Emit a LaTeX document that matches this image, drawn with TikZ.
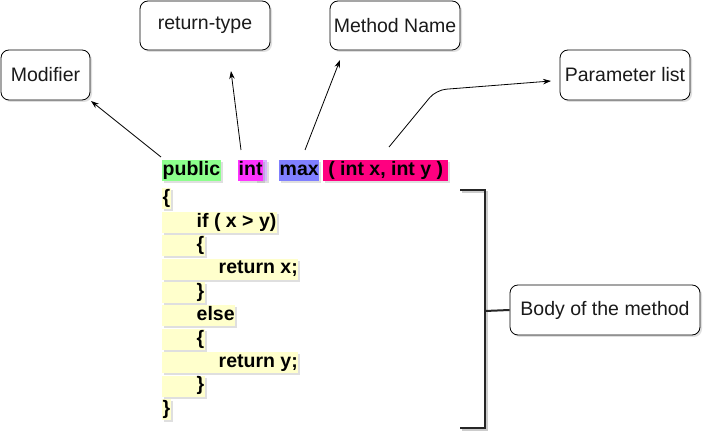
\documentclass[tikz,border=0pt]{standalone}
\usepackage{fontspec}
\setmainfont{Liberation Sans}
\usetikzlibrary{shadows,arrows.meta}
\definecolor{cgreen}{HTML}{8CFF8C}
\definecolor{cmag}{HTML}{FF33FF}
\definecolor{clav}{HTML}{D9B3FF}
\definecolor{cblue}{HTML}{7F7FFF}
\definecolor{cred}{HTML}{FF0080}
\definecolor{cyel}{HTML}{FFFFCC}
\definecolor{ctext}{HTML}{1A1A1A}
\begin{document}
\begin{tikzpicture}[x=1pt,y=-1pt,
  lbl/.style={draw=black, line width=0.8pt, rounded corners=8pt, fill=white,
    font=\fontsize{19.5}{23}\selectfont, text=ctext, inner sep=0pt,
    drop shadow={shadow xshift=2pt, shadow yshift=-2pt, opacity=0.25}},
  codebox/.style={inner xsep=0.5pt, inner ysep=0pt, minimum height=21pt, anchor=west,
    text height=14pt, text depth=4.5pt,
    font=\fontsize{19.5}{23}\bfseries\selectfont, text=black,
    drop shadow={shadow xshift=2pt, shadow yshift=-2pt, opacity=0.25}},
  codeline/.style={codebox, fill=cyel},
  arr/.style={line width=0.8pt, black, -{Stealth[length=8pt,width=5.5pt]}},
  brack/.style={line width=2pt, black!85}]
\useasboundingbox (0,0) rectangle (712,443);

% label boxes
\node[lbl, minimum width=89pt, minimum height=50pt] (modifier) at (45.5,75) {Modifier};
\node[lbl, minimum width=130pt, minimum height=49pt] (rettype) at (205,25.5) {return-type};
\node[lbl, minimum width=130pt, minimum height=49pt] (mname) at (395,25.5) {Method Name};
\node[lbl, minimum width=130pt, minimum height=50pt] (plist) at (625,75) {Parameter list};
\node[lbl, minimum width=190pt, minimum height=50pt] (body) at (605,310) {Body of the method};

% header line
\node[codebox, fill=cgreen] (pub) at (162,171) {public};
\fill[clav, drop shadow={shadow xshift=2pt, shadow yshift=-2pt, opacity=0.25}] (255,160.5) rectangle (267,181.5);
\node[codebox, fill=cmag, drop shadow={opacity=0}] (int) at (238,171) {int};
\node[codebox, fill=cblue] (max) at (279,171) {max};
\node[codebox, fill=cred, minimum width=125pt] (par) at (323,171) {( int x, int y )};

% body lines
\node[codeline] (l1) at (162,199.0) {\{};
\node[codeline] (l2) at (162,222.4) {\hspace*{34pt}if ( x > y)};
\node[codeline] (l3) at (162,245.8) {\hspace*{34pt}\{};
\node[codeline] (l4) at (162,269.2) {\hspace*{56pt}return x;};
\node[codeline] (l5) at (162,292.6) {\hspace*{34pt}\}};
\node[codeline] (l6) at (162,316.0) {\hspace*{34pt}else};
\node[codeline] (l7) at (162,339.4) {\hspace*{34pt}\{};
\node[codeline] (l8) at (162,362.8) {\hspace*{56pt}return y;};
\node[codeline] (l9) at (162,386.2) {\hspace*{34pt}\}};
\node[codeline] (l10) at (162,409.6) {\}};

% arrow coordinates
\coordinate (tmod) at (161,157);
\coordinate (hmod) at (91,101);
\coordinate (tret) at (241,150);
\coordinate (hret) at (231,71);
\coordinate (tmn) at (305,150);
\coordinate (hmn) at (340,60);
\coordinate (tpl) at (389,147);
\coordinate (bpl) at (436,90);
\coordinate (hpl) at (551,81);

\draw[arr] (tmod) -- (hmod);
\draw[arr] (tret) -- (hret);
\draw[arr] (tmn) -- (hmn);
\draw[arr, rounded corners=10pt] (tpl) -- (bpl) -- (hpl);

% bracket
\coordinate (bt1) at (460,190);
\coordinate (bt2) at (485,190);
\coordinate (bb2) at (485,428);
\coordinate (bb1) at (460,428);
\coordinate (bm) at (485,311);
\draw[brack, black!20, line width=2.5pt, transform canvas={xshift=2pt,yshift=-2pt}] (bt1) -- (bt2) -- (bb2) -- (bb1);
\draw[brack] (bt1) -- (bt2) -- (bb2) -- (bb1);
\draw[brack] (bm) -- (body.west);
\end{tikzpicture}
\end{document}
